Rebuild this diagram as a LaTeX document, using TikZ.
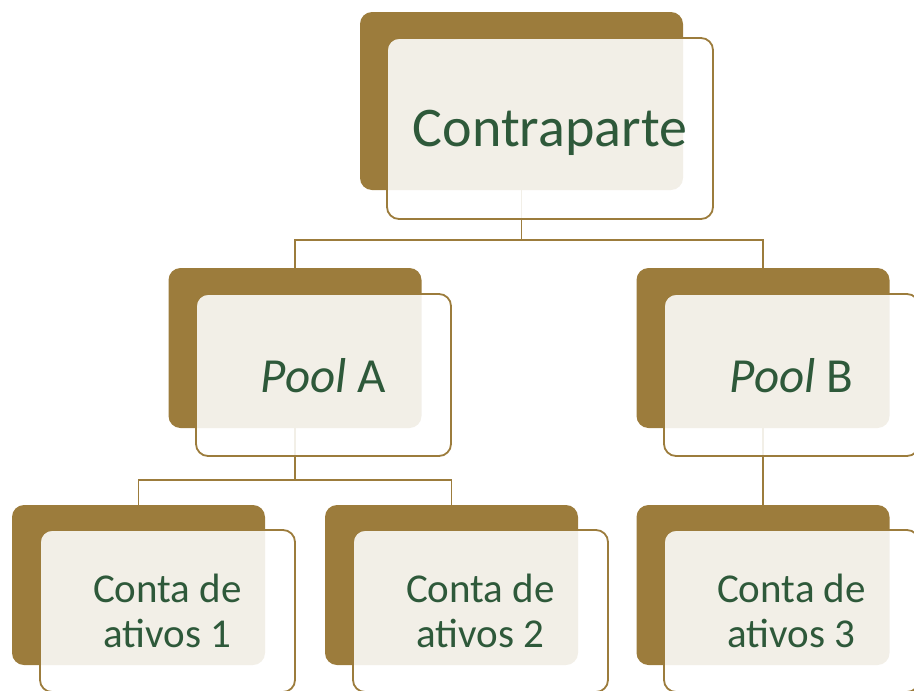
\documentclass[tikz,border=0pt]{standalone}
\usepackage{fontspec}
\setmainfont{Carlito}
\usetikzlibrary{calc}
\definecolor{gold}{RGB}{156,124,60}
\definecolor{pine}{RGB}{46,89,58}

\begin{document}
\begin{tikzpicture}[x=1pt, y=-1pt,
  back/.style={fill=gold, rounded corners=12pt, minimum width=253pt, minimum height=160pt, inner sep=0pt},
  front/.style={draw=gold, line width=1.8pt, fill=white, fill opacity=0.88, text opacity=1, text=pine,
    rounded corners=12pt, minimum width=255pt, minimum height=162pt, inner sep=0pt, align=center, text depth=0pt},
  link/.style={draw=gold, line width=1.8pt}]
	\useasboundingbox (0,0) rectangle (914,691);

	% back plates
	\node[back, minimum width=323pt, minimum height=178pt] (cp) at (521.5,101) {};
	\node[back] (pa) at (295,348) {};
	\node[back] (pb) at (763,348) {};
	\node[back] (c1) at (138.5,585) {};
	\node[back] (c2) at (451.5,585) {};
	\node[back] (c3) at (763,585) {};

	% connectors
	\coordinate (bus1) at (521.5,240);
	\coordinate (bus2) at (295,480);
	\draw[link] (cp.south) -- (bus1) -| (pa.north);
	\draw[link] (bus1) -| (pb.north);
	\draw[link] (pa.south) -- (bus2) -| (c1.north);
	\draw[link] (bus2) -| (c2.north);
	\draw[link] (pb.south) -- (c3.north);

	% front cards
	\node[front, minimum width=326pt, minimum height=181pt, font=\fontsize{56}{60}\selectfont] (cp-f) at (550,128.5) {Contraparte};
	\node[front, font=\fontsize{49}{54}\selectfont] (pa-f) at (323.5,375) {\textit{Pool} A};
	\node[front, font=\fontsize{49}{54}\selectfont] (pb-f) at (791.5,375) {\textit{Pool} B};
	\node[front, font=\fontsize{41}{45}\selectfont] (c1-f) at (167.5,611) {Conta de\\ativos 1};
	\node[front, font=\fontsize{41}{45}\selectfont] (c2-f) at (480.5,611) {Conta de\\ativos 2};
	\node[front, font=\fontsize{41}{45}\selectfont] (c3-f) at (791.5,611) {Conta de\\ativos 3};
\end{tikzpicture}
\end{document}
